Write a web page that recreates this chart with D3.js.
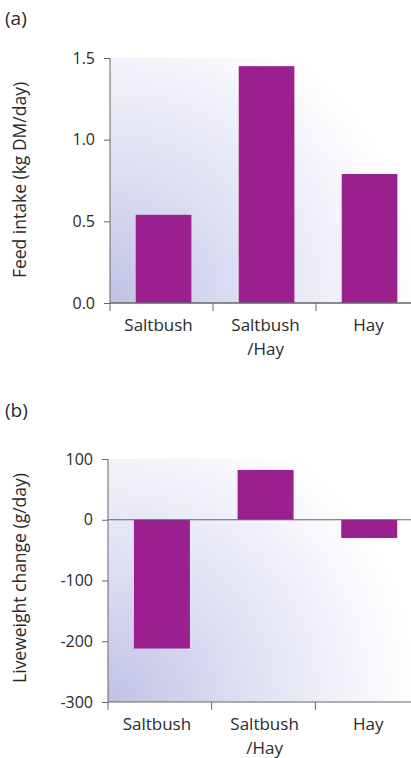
<!DOCTYPE html>
<html>
<head>
<meta charset="utf-8">
<script src="https://cdn.jsdelivr.net/npm/d3@7"></script>
<style>
  html, body { margin: 0; padding: 0; background: #fff; }
  svg { display: block; }
  text { font-family: "Open Sans", "Noto Sans", sans-serif; fill: #2a2a2a; }
</style>
</head>
<body>
<svg id="chart" width="411" height="758"></svg>
<script>
// ---- data ----
const categories = ["Saltbush", "Saltbush\n/Hay", "Hay"];
const feedIntake = [0.54, 1.45, 0.79];
const liveweightChange = [-212, 82, -30];
const feedTicks = [0, 0.5, 1.0, 1.5];
const lwTicks = [-300, -200, -100, 0, 100];

const svg = d3.select("#chart");
const barColor = "#9a1f8f";
const axisColor = "#666";

const defs = svg.append("defs");

function panel(opts) {
  const { label, labelY, left, right, top, bottom, domain, ticks, fmt, values, title, titleY, gradId } = opts;
  const y = d3.scaleLinear().domain(domain).range([bottom, top]);
  const x = d3.scaleBand().domain(categories).range([left, right + 8]).padding(0);
  const bw = x.bandwidth();

  // background gradient
  const g = defs.append("radialGradient").attr("id", gradId)
    .attr("gradientUnits", "userSpaceOnUse")
    .attr("cx", left).attr("cy", bottom).attr("r", 310);
  g.append("stop").attr("offset", 0).attr("stop-color", "#bfc2e6");
  g.append("stop").attr("offset", 0.45).attr("stop-color", "#dfe0f3");
  g.append("stop").attr("offset", 0.85).attr("stop-color", "#f7f7fc");
  g.append("stop").attr("offset", 1).attr("stop-color", "#ffffff");
  svg.append("rect").attr("x", left).attr("y", top)
    .attr("width", right - left).attr("height", bottom - top)
    .attr("fill", `url(#${gradId})`);

  // panel label
  svg.append("text").attr("x", 5).attr("y", labelY).attr("font-size", 19)
    .attr("dominant-baseline", "middle").text(label);

  // bars
  svg.append("g").selectAll("rect").data(values).join("rect")
    .attr("x", (d, i) => x(categories[i]) + bw * 0.25)
    .attr("width", bw * 0.54)
    .attr("y", d => y(Math.max(0, d)))
    .attr("height", d => Math.abs(y(d) - y(0)))
    .attr("fill", barColor);

  // y axis
  const ya = d3.axisLeft(y).tickValues(ticks).tickFormat(fmt).tickSize(6).tickPadding(9);
  const yg = svg.append("g").attr("transform", `translate(${left},0)`).call(ya);
  yg.select(".domain").remove();
  yg.selectAll(".tick line").attr("stroke", axisColor);
  yg.selectAll(".tick text").attr("font-size", 16).attr("fill", "#2a2a2a")
    .style("font-family", '"Open Sans", sans-serif');
  svg.append("line").attr("x1", left).attr("x2", left)
    .attr("y1", top).attr("y2", bottom + 8).attr("stroke", axisColor);

  // zero line
  svg.append("line").attr("x1", left).attr("x2", 411)
    .attr("y1", y(0)).attr("y2", y(0)).attr("stroke", axisColor);

  // x axis (bottom)
  svg.append("line").attr("x1", left).attr("x2", 411)
    .attr("y1", bottom).attr("y2", bottom).attr("stroke", axisColor);
  svg.append("g").selectAll("line").data(categories.slice(1)).join("line")
    .attr("x1", d => x(d)).attr("x2", d => x(d))
    .attr("y1", bottom).attr("y2", bottom + 8).attr("stroke", axisColor);

  // category labels
  const lab = svg.append("g").selectAll("text").data(categories).join("text")
    .attr("x", (d, i) => x(d) + bw * 0.25 + bw * 0.27 - (i === 0 ? 5 : 1))
    .attr("y", bottom + 28)
    .attr("text-anchor", "middle").attr("font-size", 17);
  lab.each(function (d) {
    const parts = d.split("\n");
    const t = d3.select(this);
    parts.forEach((p, k) => {
      t.append("tspan").attr("x", t.attr("x")).attr("dy", k === 0 ? 0 : 24).text(p);
    });
  });

  // y title
  svg.append("text")
    .attr("transform", `translate(21,${titleY}) rotate(-90)`)
    .attr("text-anchor", "middle").attr("dominant-baseline", "middle")
    .attr("font-size", 17.5).text(title);
}

panel({
  label: "(a)", labelY: 20,
  left: 110, right: 411, top: 58, bottom: 303,
  domain: [0, 1.5], ticks: feedTicks, fmt: d3.format(".1f"),
  values: feedIntake, title: "Feed intake (kg DM/day)", titleY: 180, gradId: "bgA"
});

panel({
  label: "(b)", labelY: 412,
  left: 108, right: 411, top: 459, bottom: 702,
  domain: [-300, 100], ticks: lwTicks, fmt: d => (d < 0 ? "-" + Math.abs(d) : String(d)),
  values: liveweightChange, title: "Liveweight change (g/day)", titleY: 578, gradId: "bgB"
});
</script>
</body>
</html>
